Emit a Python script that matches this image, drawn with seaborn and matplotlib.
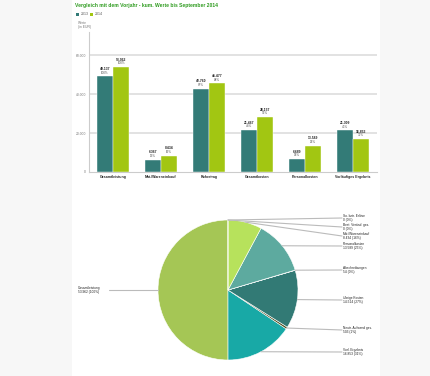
import matplotlib
matplotlib.use("Agg")
import matplotlib.pyplot as plt
import seaborn as sns
import pandas as pd
import numpy as np
from matplotlib.patches import Rectangle

# ---------------- data ----------------
categories = ["Gesamtleistung", "Mat./Wareneinkauf", "Rohertrag", "Gesamtkosten",
              "Personalkosten", "Vorläufiges Ergebnis"]
years = ["2013", "2014"]
values_2013 = [49137, 6367, 42760, 21467, 6689, 21309]
pct_2013 = ["100%", "13%", "87%", "44%", "14%", "43%"]
values_2014 = [53962, 8434, 45477, 28157, 13589, 16853]
pct_2014 = ["100%", "16%", "84%", "52%", "25%", "31%"]
y_ticks = [0, 20000, 40000, 60000]
y_tick_labels = ["0", "20.000", "40.000", "60.000"]

pie_labels = ["Gesamtleistung", "Vorl. Ergebnis", "Neutr. Aufwand ges.", "Übrige Kosten",
              "Abschreibungen", "Personalkosten", "Mat./Wareneinkauf",
              "Best. Veränd. ges.", "So. betr. Erlöse"]
pie_values = [53962, 16853, 503, 14514, 54, 13589, 8434, 0, 0]
pie_value_text = ["53.962 (100%)", "16.853 (31%)", "503 (1%)", "14.514 (27%)",
                  "54 (0%)", "13.589 (25%)", "8.434 (16%)", "0 (0%)", "0 (0%)"]

title = "Vergleich mit dem Vorjahr - kum. Werte bis September 2014"

# ---------------- style ----------------
sns.set_theme(style="white")
plt.rcParams["font.family"] = ["Liberation Sans", "DejaVu Sans"]

c13 = "#337B77"
c14 = "#A2C612"
pie_colors = ["#A5C655", "#18A9A6", "#4E4E1E", "#327A75", "#7A8A80",
              "#5DAA9F", "#B7E25C", "#9AD0C8", "#C8E890"]

W, H = 430, 376
fig = plt.figure(figsize=(W / 100, H / 100), dpi=100)
fig.patch.set_facecolor("#f7f7f7")
fig.add_artist(Rectangle((72 / W, 0), (380 - 72) / W, 1, transform=fig.transFigure,
                         facecolor="white", edgecolor="none", zorder=0))

def fx(px):
    return px / W

def fy(py):
    return 1 - py / H

# title & legend
fig.text(fx(75), fy(6), title, fontsize=3.6, fontweight="bold", color="#2E9B1F",
         ha="left", va="center")
for i, (yr, col) in enumerate(zip(years, [c13, c14])):
    x0 = 76 + i * 14
    fig.add_artist(Rectangle((fx(x0), fy(15.5)), 3 / W, 3 / H, transform=fig.transFigure,
                             facecolor=col, edgecolor="none"))
    fig.text(fx(x0 + 4.5), fy(14), yr, fontsize=2.5, color="#555555", ha="left", va="center")
fig.text(fx(78), fy(25), "Werte\n(in EUR)", fontsize=2.4, color="#777777", ha="left",
         va="center", linespacing=1.1)

# ---------------- bar chart ----------------
ax = fig.add_axes([fx(89), fy(172), fx(377) - fx(89), fy(32) - fy(172)])
df = pd.DataFrame({
    "Kategorie": categories * 2,
    "Wert": values_2013 + values_2014,
    "Jahr": [years[0]] * len(categories) + [years[1]] * len(categories),
})
sns.barplot(data=df, x="Kategorie", y="Wert", hue="Jahr", palette=[c13, c14],
            width=0.68, ax=ax, legend=False, saturation=1, edgecolor="white",
            linewidth=0.3, zorder=3)
ax.set_ylim(0, 71800)
ax.set_xlim(-0.5, len(categories) - 0.5)
ax.set_yticks(y_ticks)
ax.set_yticklabels(y_tick_labels)
ax.tick_params(axis="y", labelsize=2.4, colors="#777777", length=0, pad=2)
ax.tick_params(axis="x", labelsize=2.5, length=0, pad=2)
for lab in ax.get_xticklabels():
    lab.set_fontweight("bold")
    lab.set_color("#222222")
ax.set_xlabel("")
ax.set_ylabel("")
for yv in y_ticks[1:]:
    ax.axhline(yv, color="#DDDDDD", linewidth=1.2, zorder=1)
for s in ["top", "right"]:
    ax.spines[s].set_visible(False)
ax.spines["left"].set_color("#CCCCCC")
ax.spines["left"].set_linewidth(0.8)
ax.spines["bottom"].set_color("#CCCCCC")
ax.spines["bottom"].set_linewidth(0.8)
ax.patch.set_alpha(0)

for cont, vals, pcts in zip(ax.containers, [values_2013, values_2014], [pct_2013, pct_2014]):
    for bar, v, p in zip(cont, vals, pcts):
        cx = bar.get_x() + bar.get_width() / 2
        top = bar.get_height()
        ax.annotate(p, (cx, top), xytext=(0, 1.2), textcoords="offset points",
                    ha="center", va="bottom", fontsize=2.2, color="#555555")
        ax.annotate(f"{v:,}".replace(",", "."), (cx, top), xytext=(0, 3.8),
                    textcoords="offset points", ha="center", va="bottom",
                    fontsize=2.4, fontweight="bold", color="#222222")

# ---------------- pie chart ----------------
R = 70
pcx, pcy = 228, 290
pax = fig.add_axes([fx(pcx - R), fy(pcy + R), 2 * R / W, 2 * R / H])
wedges, _ = pax.pie(pie_values, colors=pie_colors, startangle=90, counterclock=True,
                    radius=1, wedgeprops=dict(edgecolor="white", linewidth=0.4))
pax.set_xlim(-1, 1)
pax.set_ylim(-1, 1)
pax.set_aspect("equal")
pax.axis("off")

label_y_px = {"So. betr. Erlöse": 218, "Best. Veränd. ges.": 227, "Mat./Wareneinkauf": 236,
              "Personalkosten": 246, "Abschreibungen": 270, "Übrige Kosten": 300,
              "Neutr. Aufwand ges.": 330, "Vorl. Ergebnis": 352, "Gesamtleistung": 290}
for w, name, txt in zip(wedges, pie_labels, pie_value_text):
    ang = np.deg2rad((w.theta1 + w.theta2) / 2)
    ex, ey = np.cos(ang), np.sin(ang)
    ly = (pcy - label_y_px[name]) / R
    if name == "Gesamtleistung":
        x_end = (109 - pcx) / R
        pax.plot([-1.0, x_end], [ly, ly], color="#BBBBBB", linewidth=0.8, clip_on=False)
        pax.text((78 - pcx) / R, ly, f"{name}\n{txt}", fontsize=2.3, ha="left", va="center",
                 color="#222222", linespacing=0.95, clip_on=False)
    else:
        x_end = (342 - pcx) / R
        pax.plot([ex, x_end], [ey, ly], color="#BBBBBB", linewidth=0.8, clip_on=False)
        pax.text((343 - pcx) / R, ly, f"{name}\n{txt}", fontsize=2.3, ha="left", va="center",
                 color="#222222", linespacing=0.95, clip_on=False)

fig.savefig("out.png", dpi=100, facecolor=fig.get_facecolor())
